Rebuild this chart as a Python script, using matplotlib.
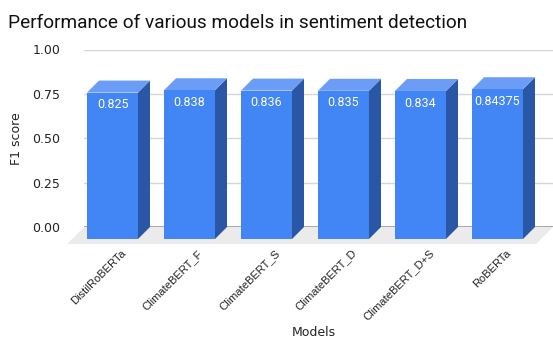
import matplotlib
matplotlib.use("Agg")
import matplotlib.pyplot as plt
from matplotlib.patches import Polygon
from matplotlib.transforms import ScaledTranslation

models = ["DistilRoBERTa", "ClimateBERT_F", "ClimateBERT_S", "ClimateBERT_D",
          "ClimateBERT_D+S", "RoBERTa"]
f1_scores = [0.825, 0.838, 0.836, 0.835, 0.834, 0.84375]
y_ticks = [0.0, 0.25, 0.5, 0.75, 1.0]

FRONT = "#4285f4"
SIDE = "#2a56a6"
TOP = "#6b9df6"
FLOOR = "#ebebeb"

W, H = 553, 338
fig = plt.figure(figsize=(W / 100, H / 100), dpi=100)
ax = fig.add_axes([84 / W, 111 / H, 469 / W, 177.5 / H])
ax.set_xlim(-0.526, 5.565)
ax.set_ylim(0, 1)

# depth of the fake 3D extrusion, in pixels -> data units
px_x = ax.bbox.width / (ax.get_xlim()[1] - ax.get_xlim()[0])
px_y = ax.bbox.height / (ax.get_ylim()[1] - ax.get_ylim()[0])
dx, dy = 12 / px_x, 12 / px_y
fdx, fdy = 17 / px_x, 17 / px_y
w = 51 / px_x

for s in ax.spines.values():
    s.set_visible(False)
ax.set_yticks(y_ticks)
ax.set_yticklabels([f"{t:.2f}" for t in y_ticks])
ax.tick_params(axis="y", length=0, pad=17, labelsize=9, labelcolor="#222222")
ax.grid(axis="y", color="#d6d6d6", lw=1)
ax.set_axisbelow(True)

# floor under the bars
xl, xr = ax.get_xlim()
ax.add_patch(Polygon([(xl, 0), (xr, 0), (xr - fdx, -fdy), (xl - fdx, -fdy)],
                     closed=True, fc=FLOOR, ec="none", clip_on=False, zorder=1))
ax.axhline(0, color="#9a9a9a", lw=1.2, zorder=1.5)

xs = list(range(len(models)))
for x, v in zip(xs, f1_scores):
    r = x + w / 2
    l = x - w / 2
    ax.add_patch(Polygon([(r - dx, -dy), (r, 0), (r, v), (r - dx, v - dy)],
                         closed=True, fc=SIDE, ec="none", clip_on=False, zorder=2))
    ax.add_patch(Polygon([(l - dx, v - dy), (l, v), (r, v), (r - dx, v - dy)],
                         closed=True, fc=TOP, ec="none", clip_on=False, zorder=2))

ax.bar([x - dx for x in xs], f1_scores, bottom=-dy, width=w, color=FRONT,
       zorder=3, clip_on=False)
for x, v in zip(xs, f1_scores):
    ax.annotate(str(v), (x - dx, v - dy), xytext=(0, -4), textcoords="offset points",
                ha="center", va="top", color="white", fontsize=9, family="Roboto",
                zorder=4)

ax.set_xticks(xs)
ax.set_xticklabels(models, rotation=45, ha="right", rotation_mode="anchor",
                   fontsize=8, family="Liberation Sans", color="#222222")
ax.tick_params(axis="x", length=0, pad=15)
shift = ScaledTranslation(-4 / 100, 0, fig.dpi_scale_trans)
for lab in ax.get_xticklabels():
    lab.set_transform(lab.get_transform() + shift)

ax.set_ylabel("F1 score", fontsize=9, color="#222222")
ax.yaxis.set_label_coords(-0.13, 0.5)
ax.set_xlabel("Models", fontsize=9, color="#222222")
ax.xaxis.set_label_coords(0.49, -0.555)

fig.text(8 / W, 1 - 28 / H, "Performance of various models in sentiment detection",
         fontsize=13.7, family="Roboto", va="baseline", ha="left", color="#111111")

fig.savefig("out.png", dpi=100)
